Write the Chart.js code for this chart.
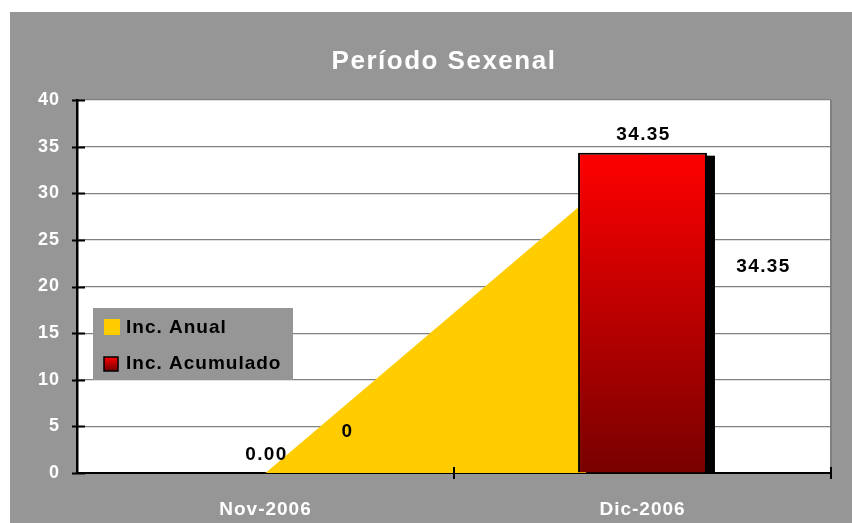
<!DOCTYPE html>
<html>
<head>
<meta charset="utf-8">
<script src="https://cdn.jsdelivr.net/npm/chart.js@4.4.1/dist/chart.umd.min.js"></script>
<style>
  html, body { margin: 0; padding: 0; background: #ffffff; }
  #wrap { position: relative; width: 852px; height: 523px; }
</style>
</head>
<body>
<div id="wrap"><canvas id="chart" width="852" height="523"></canvas></div>
<script>
// Données du graphique
const titleText = 'Período Sexenal';
const categories = ['Nov-2006', 'Dic-2006'];
const anualLabel = 'Inc. Anual';
const anualValues = [0, 34.35];
const acumLabel = 'Inc. Acumulado';
const acumValues = [0, 34.35];
const yTicks = [0, 5, 10, 15, 20, 25, 30, 35, 40];

const FONT = '"Liberation Sans", Arial, sans-serif';
const PANEL = '#969696';

// Fond gris, titre, bordures et graduations
const framePlugin = {
  id: 'frame',
  beforeDraw(chart) {
    const { ctx, width, height } = chart;
    // espacement des lettres à la façon d'Excel (reste actif pour les ticks)
    ctx.letterSpacing = '1px';
    ctx.save();
    ctx.fillStyle = '#ffffff';
    ctx.fillRect(0, 0, width, height);
    ctx.fillStyle = PANEL;
    ctx.fillRect(10, 12, width - 10, height - 12);
    const a = chart.chartArea;
    ctx.fillStyle = '#ffffff';
    ctx.fillRect(a.left, a.top, a.right - a.left, a.bottom - a.top);
    ctx.restore();
  },
  afterDraw(chart) {
    const { ctx } = chart;
    const a = chart.chartArea;
    const x = chart.scales.x;
    const y = chart.scales.y;
    ctx.save();
    // bordure droite
    ctx.strokeStyle = '#808080';
    ctx.lineWidth = 2;
    ctx.beginPath();
    ctx.moveTo(a.right, a.top);
    ctx.lineTo(a.right, a.bottom);
    ctx.stroke();
    // graduations
    ctx.strokeStyle = '#000000';
    ctx.lineWidth = 2;
    ctx.beginPath();
    yTicks.forEach(v => {
      const py = Math.round(y.getPixelForValue(v)) + 0.5;
      ctx.moveTo(a.left - 5, py);
      ctx.lineTo(a.left + 8, py);
    });
    for (let i = 1; i <= categories.length; i++) {
      const px = x.getPixelForValue(i - 0.5);
      ctx.moveTo(px, a.bottom - 6);
      ctx.lineTo(px, a.bottom + 6);
    }
    ctx.stroke();
    // titre
    ctx.fillStyle = '#ffffff';
    ctx.font = 'bold 26px ' + FONT;
    ctx.letterSpacing = '1.5px';
    ctx.textAlign = 'center';
    ctx.textBaseline = 'middle';
    ctx.fillText(titleText, 444, 62);
    ctx.restore();
  }
};

// Ombre de la barre
const shadowPlugin = {
  id: 'barShadow',
  beforeDatasetDraw(chart, args) {
    if (args.index !== 1) return;
    const { ctx } = chart;
    const base = chart.scales.y.getPixelForValue(0);
    ctx.save();
    ctx.fillStyle = '#000000';
    args.meta.data.forEach(bar => {
      const h = base - bar.y;
      if (h <= 0) return;
      ctx.fillRect(bar.x - bar.width / 2 + 8, bar.y + 3, bar.width, h - 3);
    });
    ctx.restore();
  }
};

// Étiquettes de données
const labelPlugin = {
  id: 'dataLabels',
  afterDatasetsDraw(chart) {
    const { ctx } = chart;
    ctx.save();
    ctx.font = 'bold 19px ' + FONT;
    ctx.letterSpacing = '1.4px';
    ctx.fillStyle = '#000000';
    ctx.textAlign = 'center';
    ctx.textBaseline = 'middle';
    // barres
    chart.getDatasetMeta(1).data.forEach((bar, i) => {
      ctx.fillText(acumValues[i].toFixed(2), bar.x + 1, bar.y - 18);
    });
    // aire
    const offsets = [[82, -41], [121, 114]];
    chart.getDatasetMeta(0).data.forEach((pt, i) => {
      ctx.fillText(String(anualValues[i]), pt.x + offsets[i][0], pt.y + offsets[i][1]);
    });
    ctx.restore();
  }
};

// Légende dans la zone du graphique
const legendPlugin = {
  id: 'boxLegend',
  afterDraw(chart) {
    const { ctx } = chart;
    ctx.save();
    ctx.fillStyle = PANEL;
    ctx.fillRect(93, 308, 200, 72);
    ctx.fillStyle = '#ffcc00';
    ctx.fillRect(104, 319, 16, 16);
    const g = ctx.createLinearGradient(0, 357, 0, 371);
    g.addColorStop(0, '#ff0000');
    g.addColorStop(1, '#700000');
    ctx.fillStyle = g;
    ctx.fillRect(104, 357, 14, 14);
    ctx.strokeStyle = '#000000';
    ctx.lineWidth = 1.5;
    ctx.strokeRect(104, 357, 14, 14);
    ctx.fillStyle = '#000000';
    ctx.font = 'bold 19px ' + FONT;
    ctx.letterSpacing = '1px';
    ctx.textAlign = 'left';
    ctx.textBaseline = 'middle';
    ctx.fillText(chart.data.datasets[0].label, 126, 328);
    ctx.fillText(chart.data.datasets[1].label, 126, 364);
    ctx.restore();
  }
};

function barGradient(context) {
  const chart = context.chart;
  const a = chart.chartArea;
  if (!a) return '#ff0000';
  const top = chart.scales.y.getPixelForValue(acumValues[1]);
  const g = chart.ctx.createLinearGradient(0, top, 0, a.bottom);
  g.addColorStop(0, '#ff0000');
  g.addColorStop(1, '#780000');
  return g;
}

new Chart(document.getElementById('chart'), {
  data: {
    labels: categories,
    datasets: [
      {
        type: 'line',
        label: anualLabel,
        data: anualValues,
        fill: 'origin',
        backgroundColor: '#ffcc00',
        borderWidth: 0,
        pointRadius: 0,
        tension: 0,
        order: 2
      },
      {
        type: 'bar',
        label: acumLabel,
        data: acumValues,
        backgroundColor: barGradient,
        borderColor: '#000000',
        borderWidth: 2,
        borderSkipped: 'bottom',
        categoryPercentage: 1,
        barPercentage: 0.342,
        order: 1
      }
    ]
  },
  options: {
    responsive: false,
    animation: false,
    devicePixelRatio: 1,
    layout: { padding: { left: 10, top: 100, right: 21, bottom: 0 } },
    plugins: {
      legend: { display: false },
      title: { display: false },
      tooltip: { enabled: false }
    },
    scales: {
      x: {
        type: 'category',
        offset: true,
        grid: { display: false, drawTicks: false },
        border: { display: true, color: '#000000', width: 2 },
        ticks: {
          color: '#ffffff',
          font: { family: FONT, size: 19, weight: 'bold' },
          padding: 25,
          maxRotation: 0
        },
        afterFit(scale) { scale.height = 50; }
      },
      y: {
        min: 0,
        max: 40,
        afterBuildTicks(scale) { scale.ticks = yTicks.map(v => ({ value: v })); },
        grid: { color: '#808080', lineWidth: 1.2, drawTicks: false },
        border: { display: true, color: '#000000', width: 2.5 },
        ticks: {
          color: '#ffffff',
          font: { family: FONT, size: 18, weight: 'bold' },
          padding: 17
        },
        afterFit(scale) { scale.width = 67; }
      }
    }
  },
  plugins: [framePlugin, shadowPlugin, labelPlugin, legendPlugin]
});
</script>
</body>
</html>
